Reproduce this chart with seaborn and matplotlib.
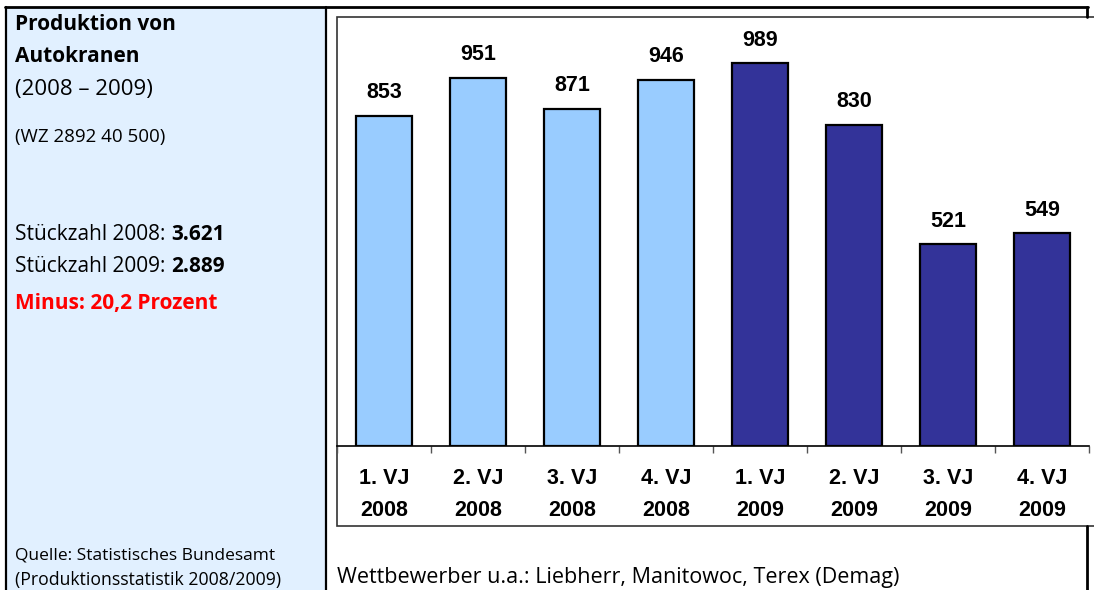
import pandas as pd
import matplotlib.pyplot as plt
import seaborn as sns
from matplotlib.patches import Rectangle

# Data
quarters = ['1. VJ', '2. VJ', '3. VJ', '4. VJ', '1. VJ', '2. VJ', '3. VJ', '4. VJ']
years = ['2008', '2008', '2008', '2008', '2009', '2009', '2009', '2009']
values = [853, 951, 871, 946, 989, 830, 521, 549]
year_colors = {'2008': '#99CCFF', '2009': '#333399'}

df = pd.DataFrame({'Quartal': [f'{q}\n{y}' for q, y in zip(quarters, years)],
                   'Jahr': years, 'Stueck': values})

sns.set_style('white')
plt.rcParams['font.family'] = ['Open Sans', 'DejaVu Sans']
plt.rcParams['text.color'] = 'black'
plt.rcParams['xtick.color'] = 'black'

W, H = 1094, 590
fig = plt.figure(figsize=(W / 100, H / 100), dpi=100)

# overlay in pixel coordinates (y downwards)
bg = fig.add_axes([0, 0, 1, 1], zorder=0)
bg.set_xlim(0, W)
bg.set_ylim(H, 0)
bg.axis('off')

# left info panel
bg.add_patch(Rectangle((6, 7), 320, 590, facecolor='#E1F0FF', edgecolor='none'))
bg.plot([6, 6], [7, H], color='black', lw=1.6)
bg.plot([326, 326], [7, H], color='black', lw=1.6)
bg.plot([5, 1088], [7, 7], color='black', lw=2)
bg.plot([1087, 1087], [7, 17], color='black', lw=2)
bg.plot([1087, 1087], [526, H], color='black', lw=2)
# chart frame
bg.add_patch(Rectangle((337, 17), 780, 509, facecolor='white', edgecolor='#333333', lw=1.2))

x0 = 15
bg.text(x0, 25, 'Produktion von', fontsize=15, fontweight='bold', va='center')
bg.text(x0, 57, 'Autokranen', fontsize=15, fontweight='bold', va='center')
bg.text(x0, 89, '(2008 – 2009)', fontsize=16, va='center')
bg.text(x0, 137, '(WZ 2892 40 500)', fontsize=13.5, va='center')

renderer = fig.canvas.get_renderer()
inv = bg.transData.inverted()
for ypos, lab, num in [(234, 'Stückzahl 2008: ', '3.621'), (267, 'Stückzahl 2009: ', '2.889')]:
    t = bg.text(x0, ypos, lab, fontsize=15, va='center')
    bb = t.get_window_extent(renderer)
    xb = inv.transform((bb.x1, 0))[0]
    bg.text(xb, ypos, num, fontsize=15, fontweight='bold', va='center')

bg.text(x0, 303, 'Minus: 20,2 Prozent', fontsize=15, fontweight='bold', color='#FF0000', va='center')
bg.text(x0, 556, 'Quelle: Statistisches Bundesamt', fontsize=12.5, va='center')
bg.text(x0, 580, '(Produktionsstatistik 2008/2009)', fontsize=12.7, va='center')
bg.text(337, 577, 'Wettbewerber u.a.: Liebherr, Manitowoc, Terex (Demag)', fontsize=15.5, va='center')

# bar chart
ax = fig.add_axes([337 / W, (H - 446) / H, (1089 - 337) / W, (446 - 17) / H], zorder=1)
ax.patch.set_alpha(0)
sns.barplot(data=df, x='Quartal', y='Stueck', hue='Jahr', palette=year_colors, saturation=1,
            dodge=False, width=0.6, edgecolor='black', linewidth=1.6, legend=False, ax=ax)
for c in ax.containers:
    ax.bar_label(c, fontsize=15.5, fontweight='bold', family='Liberation Sans', padding=9)

ax.set_xlim(-0.5, 7.5)
ax.set_ylim(0, 1108)
ax.set_xlabel('')
ax.set_ylabel('')
ax.set_yticks([])
for s in ['top', 'left', 'right']:
    ax.spines[s].set_visible(False)
ax.spines['bottom'].set_color('black')
ax.spines['bottom'].set_linewidth(1.2)
ax.set_xticks([i + 0.5 for i in range(-1, 8)], minor=True)
ax.tick_params(axis='x', which='minor', length=5, color='#555555', width=1, bottom=True)
ax.tick_params(axis='x', which='major', length=0, pad=16)
for lbl in ax.get_xticklabels():
    lbl.set_fontsize(15.5)
    lbl.set_fontweight('bold')
    lbl.set_family('Liberation Sans')
    lbl.set_linespacing(1.65)

fig.savefig('out.png', dpi=100)
